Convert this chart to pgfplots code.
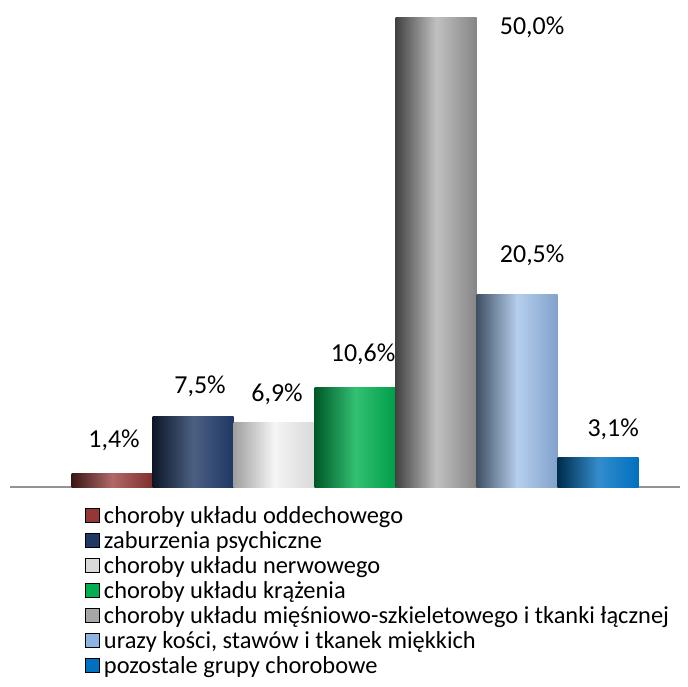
\documentclass[border=0pt]{standalone}
\usepackage{fontspec}
\setmainfont{Carlito}
\usepackage{pgfplots}
\pgfplotsset{compat=1.18}

\definecolor{c1}{HTML}{953735}
\definecolor{c2}{HTML}{1F3864}
\definecolor{c3}{HTML}{D9D9D9}
\definecolor{c4}{HTML}{00B050}
\definecolor{c5}{HTML}{A6A6A6}
\definecolor{c6}{HTML}{8EB4E3}
\definecolor{c7}{HTML}{0070C0}

\pgfplotsset{
  legsq/.style={legend image code/.code={\fill[##1] (0bp,-6bp) rectangle (14bp,8bp);}},
  % label with offset: {xshift}{baseline above bar top}
  lab/.style 2 args={nodes near coords={\pgfmathprintnumber[use comma,fixed,fixed zerofill,precision=1,assume math mode=true]{\pgfplotspointmeta}\%},
    every node near coord/.append style={font=\fontsize{26}{30}\selectfont, text=black, anchor=base, xshift=#1, yshift=#2}},
}

\begin{document}
\begin{tikzpicture}
\useasboundingbox (-10bp,-200bp) rectangle (678bp,487bp);
\begin{axis}[
  scale only axis,
  width=670bp, height=487bp,
  xmin=-1.26, xmax=7.01,
  ymin=0, ymax=51.9,
  ybar, bar width=1, bar shift=0pt,
  axis x line*=bottom, axis y line=none,
  x axis line style={-, draw=gray!85, line width=1.6bp},
  xtick=\empty, ytick=\empty,
  clip=false,
  legend style={at={(axis description cs:0.111,-0.036)}, anchor=north west,
    draw=none, fill=none, font=\fontsize{24.5}{26}\selectfont,
    row sep=2.6bp, column sep=3bp, cells={anchor=west, inner xsep=3bp}, inner sep=0pt},
]
\addlegendimage{legsq, fill=c1}
\addlegendentry{choroby układu oddechowego}
\addlegendimage{legsq, fill=c2}
\addlegendentry{zaburzenia psychiczne}
\addlegendimage{legsq, fill=c3}
\addlegendentry{choroby układu nerwowego}
\addlegendimage{legsq, fill=c4}
\addlegendentry{choroby układu krążenia}
\addlegendimage{legsq, fill=c5}
\addlegendentry{choroby układu mięśniowo-szkieletowego i tkanki łącznej}
\addlegendimage{legsq, fill=c6}
\addlegendentry{urazy kości, stawów i tkanek miękkich}
\addlegendimage{legsq, fill=c7}
\addlegendentry{pozostale grupy chorobowe}

\addplot[draw=none, left color=c1!40!black, right color=c1!85!black, middle color=c1!75!white, lab={2bp}{26bp}, forget plot]
  coordinates {(0,1.4)};
\addplot[draw=none, left color=c2!40!black, right color=c2, middle color=c2!80!white, lab={7bp}{23bp}, forget plot]
  coordinates {(1,7.5)};
\addplot[draw=none, left color=gray!75, right color=c3, middle color=white!96!black, lab={3bp}{21bp}, forget plot]
  coordinates {(2,6.9)};
\addplot[draw=none, left color=c4!50!black, right color=c4!90!black, middle color=c4!80!white, lab={8bp}{26bp}, forget plot]
  coordinates {(3,10.6)};
\addplot[draw=none, left color=c5!40!black, right color=c5!80!black, middle color=c5!70!white, lab={96bp}{-17bp}, forget plot]
  coordinates {(4,50.0)};
\addplot[draw=none, left color=c6!45!black, right color=c6!90!black, middle color=c6!65!white, lab={15bp}{32bp}, forget plot]
  coordinates {(5,20.5)};
\addplot[draw=none, left color=c7!40!black, right color=c7, middle color=c7!80!white, lab={15bp}{21bp}, forget plot]
  coordinates {(6,3.1)};
\end{axis}
\end{tikzpicture}
\end{document}
